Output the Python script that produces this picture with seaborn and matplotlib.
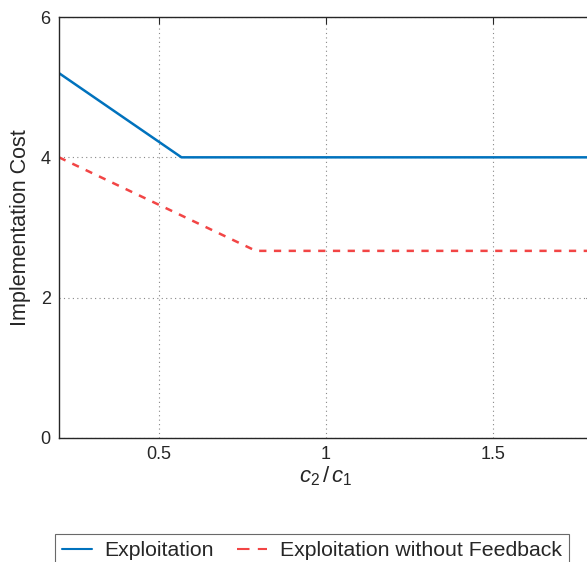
import matplotlib
matplotlib.use("Agg")
import matplotlib.pyplot as plt
import seaborn as sns
import pandas as pd
from matplotlib.lines import Line2D

# Data
ratio_exploit = [0.2, 0.567, 1.8]
cost_exploit = [5.2, 4.0, 4.0]
ratio_nofb = [0.2, 0.79, 1.8]
cost_nofb = [4.0, 2.667, 2.667]
series_names = ["Exploitation", "Exploitation without Feedback"]
x_ticks = [0.5, 1, 1.5]
x_tick_labels = ["0.5", "1", "1.5"]
y_ticks = [0, 2, 4, 6]
y_tick_labels = ["0", "2", "4", "6"]

df = pd.concat([
    pd.DataFrame({"ratio": ratio_exploit, "cost": cost_exploit, "series": series_names[0]}),
    pd.DataFrame({"ratio": ratio_nofb, "cost": cost_nofb, "series": series_names[1]}),
])

sns.set_style("white")
plt.rcParams["font.family"] = ["Liberation Sans", "DejaVu Sans"]
plt.rcParams["mathtext.fontset"] = "custom"
plt.rcParams["mathtext.it"] = "Liberation Sans:italic"
plt.rcParams["mathtext.rm"] = "Liberation Sans"

W, H = 587, 562
fig = plt.figure(figsize=(W / 100, H / 100), dpi=100)
left, right, top, bottom = 59, 593, 17, 438
ax = fig.add_axes([left / W, 1 - bottom / H, (right - left) / W, (bottom - top) / H])

BLUE = "#0072BD"
RED = "#F24545"
palette = {series_names[0]: BLUE, series_names[1]: RED}
sns.lineplot(data=df, x="ratio", y="cost", hue="series", style="series",
             palette=palette, dashes={series_names[0]: "", series_names[1]: (2.9, 3.0)},
             linewidth=1.8, ax=ax, legend=False, estimator=None, sort=False)

ax.set_xlim(0.2, 1.8)
ax.set_ylim(0, 6)
ax.set_xticks(x_ticks)
ax.set_xticklabels(x_tick_labels)
ax.set_yticks(y_ticks)
ax.set_yticklabels(y_tick_labels)
ax.grid(True, linestyle=(0, (1, 3)), color="#888888", linewidth=0.8)
ax.tick_params(direction="in", length=5, width=0.8, top=True, right=True,
               labelsize=13, colors="#262626", pad=6)
for sp in ax.spines.values():
    sp.set_visible(True)
    sp.set_color("#262626")
    sp.set_linewidth(1.0)
ax.set_xlabel(r"$c_2\,/\,c_1$", fontsize=16, color="#262626", labelpad=1)
ax.set_ylabel("Implementation Cost", fontsize=15.5, color="#262626", labelpad=7)

handles = [Line2D([], [], color=BLUE, lw=1.5),
           Line2D([], [], color=RED, lw=1.5, dashes=(6, 4))]
leg = fig.legend(handles, series_names, loc="upper center",
                 bbox_to_anchor=(312 / W, 1 - 534 / H), ncol=2, fontsize=15.3,
                 frameon=True, fancybox=False, edgecolor="#444444",
                 handlelength=1.4, handletextpad=0.6, columnspacing=1.1,
                 borderpad=0.35, borderaxespad=0)
leg.get_frame().set_linewidth(0.8)
for t in leg.get_texts():
    t.set_color("#262626")

fig.savefig("out.png", dpi=100)
